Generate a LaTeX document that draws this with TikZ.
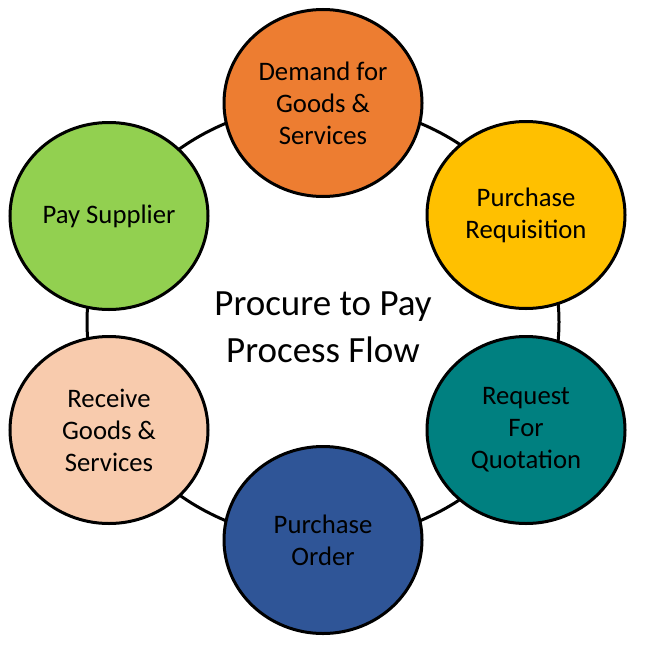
\documentclass[tikz,border=0pt]{standalone}
\usepackage{fontspec}
\setmainfont{Carlito}
\usepackage{tikz}
\usepackage{xcolor}
\usetikzlibrary{shapes.geometric}

\definecolor{demand}{HTML}{ED7D31}
\definecolor{requisition}{HTML}{FFC000}
\definecolor{quotation}{HTML}{008080}
\definecolor{order}{HTML}{2F5597}
\definecolor{receive}{HTML}{F8CBAD}
\definecolor{pay}{HTML}{92D050}

\begin{document}
\begin{tikzpicture}
  [x=1pt,y=-1pt,line width=3pt,
   every node/.style={ellipse,draw,inner sep=0pt,align=center,
     minimum width=198pt,minimum height=187pt,
     font=\fontsize{26.7}{32}\selectfont}]
  \useasboundingbox (0,0) rectangle (652,645);

  % ring behind the steps
  \node[minimum width=472pt,minimum height=436pt] (ring) at (323,322) {};
  \node[draw=none,minimum width=0pt,minimum height=0pt,
    font=\fontsize{37}{47}\selectfont] (title) at (323,327) {Procure to Pay\\Process Flow};

  \node[fill=demand] (n1) at (323,103) {Demand for\\Goods \&\\Services};
  \node[fill=requisition] (n2) at (526,215) {Purchase\\Requisition};
  \node[fill=quotation] (n3) at (526,430) {Request\\For\\Quotation};
  \node[fill=order] (n4) at (323,540) {Purchase\\Order};
  \node[fill=receive] (n5) at (109,430) {Receive\\Goods \&\\Services};
  \node[fill=pay] (n6) at (109,216) {Pay Supplier};

\end{tikzpicture}
\end{document}
